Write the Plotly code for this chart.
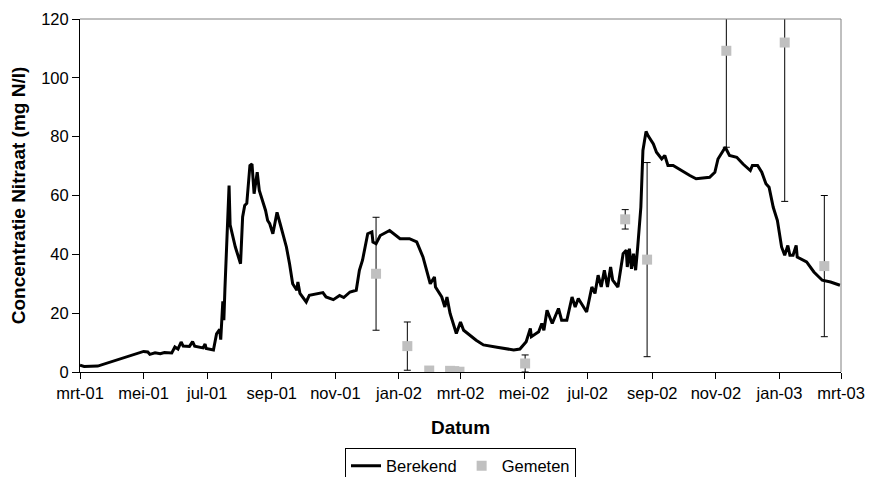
import plotly.graph_objects as go

# ---- data ----
berekend_dates = [
    "2001-03-01", "2001-03-05", "2001-03-18", "2001-05-01", "2001-05-05", "2001-05-07",
    "2001-05-12", "2001-05-17", "2001-05-21", "2001-05-28", "2001-05-31", "2001-06-03",
    "2001-06-06", "2001-06-08", "2001-06-14", "2001-06-17", "2001-06-19", "2001-06-27",
    "2001-06-29", "2001-06-30", "2001-07-07", "2001-07-10", "2001-07-13", "2001-07-14",
    "2001-07-16", "2001-07-17", "2001-07-18", "2001-07-20", "2001-07-22", "2001-07-23",
    "2001-07-28", "2001-08-02", "2001-08-04", "2001-08-06", "2001-08-08", "2001-08-11",
    "2001-08-13", "2001-08-15", "2001-08-17", "2001-08-18", "2001-08-20", "2001-08-24",
    "2001-08-26", "2001-08-28", "2001-08-30", "2001-09-02", "2001-09-06", "2001-09-09",
    "2001-09-15", "2001-09-18", "2001-09-21", "2001-09-25", "2001-09-26", "2001-09-28",
    "2001-10-04", "2001-10-07", "2001-10-13", "2001-10-20", "2001-10-23", "2001-10-30",
    "2001-11-05", "2001-11-09", "2001-11-15", "2001-11-21", "2001-11-24", "2001-11-27",
    "2001-12-02", "2001-12-06", "2001-12-07", "2001-12-10", "2001-12-14", "2001-12-23",
    "2002-01-02", "2002-01-11", "2002-01-18", "2002-01-24", "2002-01-31", "2002-02-04",
    "2002-02-05", "2002-02-11", "2002-02-14", "2002-02-16", "2002-02-19", "2002-02-25",
    "2002-03-01", "2002-03-04", "2002-03-16", "2002-03-23", "2002-04-05", "2002-04-14",
    "2002-04-21", "2002-04-27", "2002-05-03", "2002-05-07", "2002-05-08", "2002-05-15",
    "2002-05-18", "2002-05-20", "2002-05-23", "2002-05-28", "2002-06-03", "2002-06-06",
    "2002-06-11", "2002-06-16", "2002-06-19", "2002-06-22", "2002-06-30", "2002-07-05",
    "2002-07-08", "2002-07-11", "2002-07-14", "2002-07-17", "2002-07-20", "2002-07-23",
    "2002-07-25", "2002-07-30", "2002-08-04", "2002-08-07", "2002-08-08", "2002-08-10",
    "2002-08-12", "2002-08-14", "2002-08-16", "2002-08-18", "2002-08-21", "2002-08-23",
    "2002-08-26", "2002-08-28", "2002-09-02", "2002-09-05", "2002-09-10", "2002-09-13",
    "2002-09-16", "2002-09-21", "2002-10-01", "2002-10-07", "2002-10-13", "2002-10-26",
    "2002-10-31", "2002-11-03", "2002-11-10", "2002-11-14", "2002-11-21", "2002-11-27",
    "2002-12-04", "2002-12-06", "2002-12-11", "2002-12-15", "2002-12-19", "2002-12-22",
    "2002-12-26", "2002-12-30", "2003-01-03", "2003-01-06", "2003-01-09", "2003-01-11",
    "2003-01-14", "2003-01-17", "2003-01-18", "2003-01-27", "2003-02-03", "2003-02-11",
    "2003-02-19", "2003-02-28",
]
berekend_values = [
    2.3, 1.9, 2.0, 7.0, 6.8, 6.0,
    6.5, 6.2, 6.6, 6.5, 8.5, 7.8,
    10.2, 8.8, 8.7, 10.3, 8.8, 8.2,
    9.5, 8.0, 7.5, 13.0, 14.5, 11.0,
    24.0, 17.6, 28.0, 45.0, 63.4, 50.0,
    42.5, 36.8, 52.7, 56.6, 57.3, 70.2,
    70.7, 60.6, 66.2, 67.9, 61.7, 57.2,
    54.9, 51.5, 50.4, 47.0, 54.3, 50.4,
    42.5, 36.8, 30.0, 27.8, 30.6, 26.7,
    23.8, 26.1, 26.5, 27.0, 25.5, 24.6,
    26.0, 25.3, 27.2, 27.8, 34.6, 38.0,
    47.0, 47.6, 44.2, 43.6, 46.4, 48.1,
    45.3, 45.3, 44.2, 39.1, 30.0, 32.3,
    28.9, 25.5, 22.1, 25.5, 19.9, 13.1,
    17.0, 14.2, 10.8, 9.2, 8.4, 8.0,
    7.5, 7.8, 10.3, 14.8, 12.0, 13.7,
    16.5, 14.2, 21.0, 16.5, 21.6, 17.6,
    17.6, 25.5, 22.1, 25.0, 20.4, 28.9,
    26.7, 32.9, 28.9, 34.6, 28.9, 35.7,
    31.2, 28.9, 40.2, 41.4, 35.7, 41.9,
    35.1, 40.2, 34.6, 42.5, 56.0, 75.3,
    81.8, 80.3, 77.5, 74.7, 72.4, 73.6,
    70.2, 70.2, 67.9, 66.8, 65.7, 66.2,
    67.9, 72.4, 76.4, 73.6, 73.0, 70.7,
    68.5, 70.2, 70.2, 67.9, 64.0, 62.8,
    56.0, 51.5, 42.5, 39.7, 43.0, 39.7,
    39.7, 43.0, 39.1, 37.4, 34.0, 31.2,
    30.6, 29.5,
]

gemeten_dates = [
    "2001-12-10", "2002-01-09", "2002-01-30", "2002-02-19", "2002-02-23", "2002-02-28",
    "2002-05-02", "2002-08-06", "2002-08-27", "2002-11-11", "2003-01-06", "2003-02-13",
]
gemeten_values = [33.4, 8.8, 0.5, 0.4, 0.3, 0.1, 2.9, 51.9, 38.2, 109.2, 112.0, 36.0]
gemeten_error = [19.2, 8.2, 0.0, 0.0, 0.0, 0.0, 2.9, 3.3, 33.0, 32.8, 54.0, 24.0]

tick_dates = ["2001-03-01", "2001-05-01", "2001-07-01", "2001-09-01", "2001-11-01",
              "2002-01-01", "2002-03-01", "2002-05-01", "2002-07-01", "2002-09-01",
              "2002-11-01", "2003-01-01", "2003-03-01"]
tick_labels = ["mrt-01", "mei-01", "jul-01", "sep-01", "nov-01", "jan-02", "mrt-02",
               "mei-02", "jul-02", "sep-02", "nov-02", "jan-03", "mrt-03"]

FONT = "Arial, 'Liberation Sans', sans-serif"

fig = go.Figure()
fig.add_trace(go.Scatter(
    x=berekend_dates, y=berekend_values, name="Berekend", mode="lines",
    line=dict(color="black", width=3),
))
fig.add_trace(go.Scatter(
    x=gemeten_dates, y=gemeten_values, name="Gemeten", mode="markers",
    marker=dict(symbol="square", size=10, color="#C0C0C0"),
    error_y=dict(type="data", array=gemeten_error, visible=True,
                 color="black", thickness=1, width=3.5),
))

fig.update_layout(
    width=869, height=477,
    margin=dict(l=80, r=28, t=19, b=105, autoexpand=False),
    paper_bgcolor="white", plot_bgcolor="white",
    font=dict(family=FONT, size=16.5, color="black"),
    showlegend=True,
    legend=dict(orientation="h", x=0.5, xanchor="center", y=-0.214, yanchor="top",
                bordercolor="black", borderwidth=1, bgcolor="white",
                font=dict(size=16.5), itemwidth=30, tracegroupgap=0),
    xaxis=dict(
        type="date", range=["2001-03-01", "2003-03-01"],
        tickmode="array", tickvals=tick_dates, ticktext=tick_labels,
        ticks="outside", ticklen=6, tickcolor="black", tickwidth=1,
        showline=True, linecolor="black", linewidth=1,
        showgrid=False, zeroline=False, automargin=False,
        title=dict(text="<b>Datum</b>", font=dict(size=19), standoff=19),
    ),
    yaxis=dict(
        range=[0, 120], dtick=20, tick0=0,
        ticks="outside", ticklen=7, tickcolor="black", tickwidth=1,
        showline=True, linecolor="black", linewidth=1,
        showgrid=False, zeroline=False, automargin=False,
        title=dict(text="<b>Concentratie Nitraat (mg N/l)</b>", font=dict(size=19), standoff=10),
    ),
    shapes=[
        dict(type="line", xref="paper", yref="paper", x0=0, x1=1, y0=1, y1=1,
             line=dict(color="#808080", width=1)),
        dict(type="line", xref="paper", yref="paper", x0=1, x1=1, y0=0, y1=1,
             line=dict(color="#808080", width=1)),
    ],
)

fig.write_html("out.html")
